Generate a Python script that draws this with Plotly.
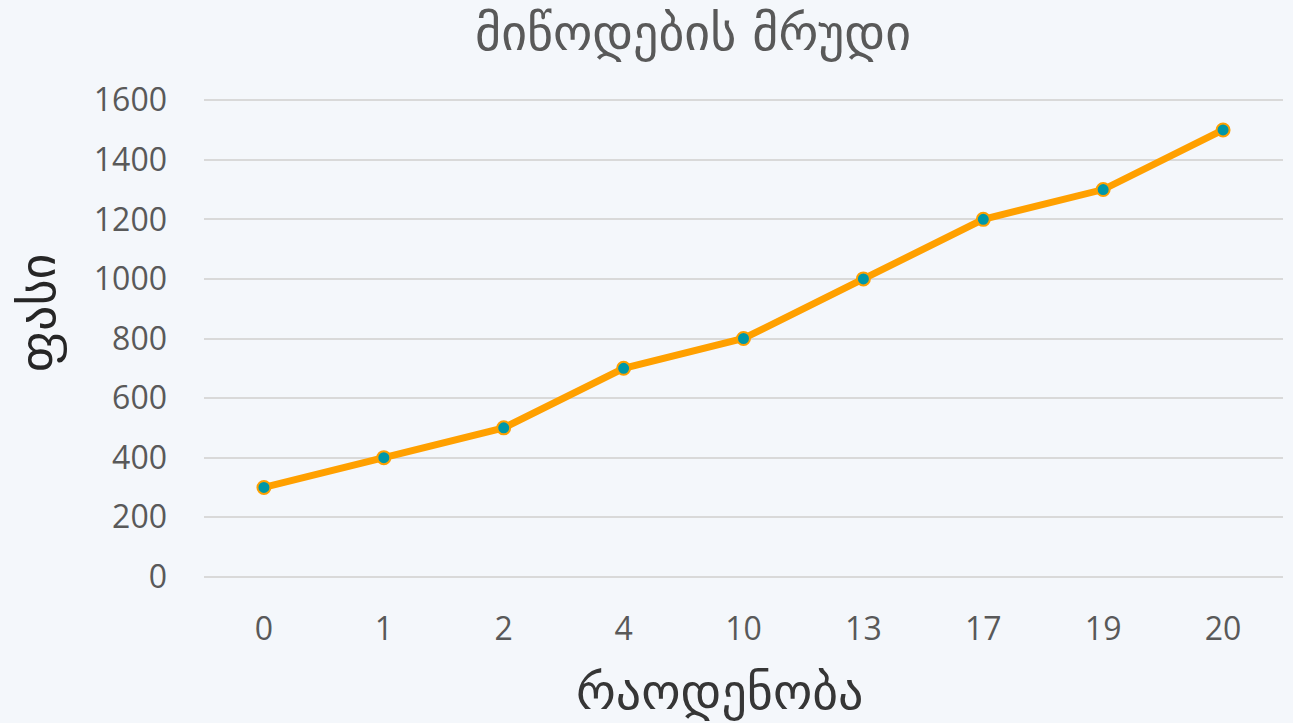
import plotly.graph_objects as go

# supply curve data
quantity = ["0", "1", "2", "4", "10", "13", "17", "19", "20"]
price = [300, 400, 500, 700, 800, 1000, 1200, 1300, 1500]
y_ticks = [0, 200, 400, 600, 800, 1000, 1200, 1400, 1600]

fig = go.Figure()

fig.add_trace(go.Scatter(
    x=quantity, y=price, mode="lines+markers",
    line=dict(color="#FFA000", width=7),
    marker=dict(size=13, color="#0097A7", line=dict(color="#FFA000", width=2)),
    showlegend=False
))

fig.update_layout(
    width=1293, height=723,
    paper_bgcolor="#F4F7FB", plot_bgcolor="#F4F7FB",
    margin=dict(l=204, r=10, t=99, b=145),
    font=dict(family="Open Sans, DejaVu Sans", color="#595959", size=32),
    title=dict(text="მიწოდების მრუდი", x=0.536, xanchor="center", y=0.955, yanchor="middle",
               font=dict(family="DejaVu Sans", size=50, color="#595959")),
    xaxis=dict(
        type="category", range=[-0.5, 8.5],
        showgrid=False, zeroline=False, showline=False,
        ticks="", ticklabelstandoff=29,
    ),
    yaxis=dict(
        range=[-4, 1604], tickvals=y_ticks,
        showgrid=True, gridcolor="#D9D9D9", gridwidth=1.5,
        zeroline=True, zerolinecolor="#D9D9D9", zerolinewidth=1.5,
        showline=False, ticks="", ticklabelstandoff=36,
    ),
)

# axis titles placed as annotations to match the off-centre positions
fig.add_annotation(text="რაოდენობა", xref="paper", yref="paper", x=0.478, y=-0.238,
                   xanchor="center", yanchor="middle", showarrow=False,
                   font=dict(family="DejaVu Sans", size=50, color="#363636"))
fig.add_annotation(text="ფასი", xref="paper", yref="paper", x=-0.1538, y=0.553,
                   xanchor="center", yanchor="middle", showarrow=False, textangle=-90,
                   font=dict(family="DejaVu Sans", size=50, color="#262626"))

fig.write_html("out.html", config={"displayModeBar": False},
               post_script="document.body.style.margin='0px';")
